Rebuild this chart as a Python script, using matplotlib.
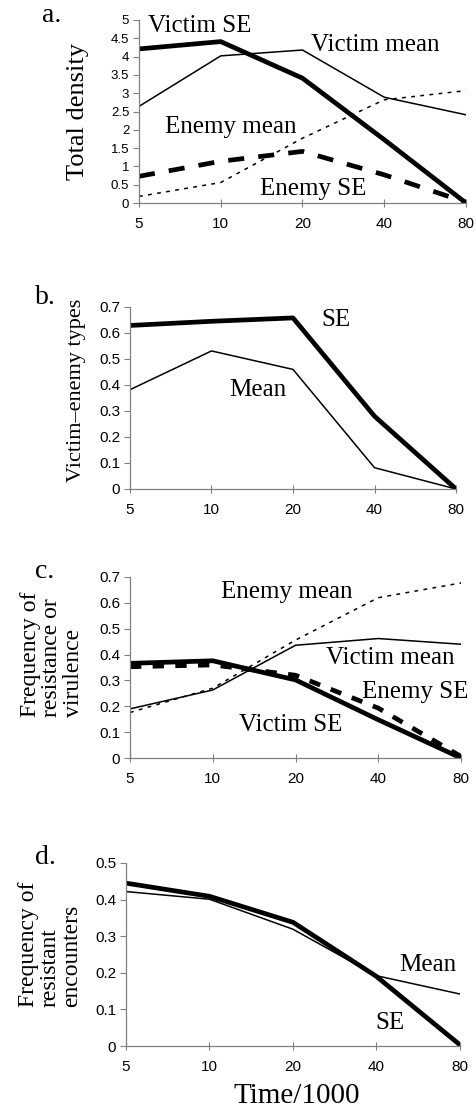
import matplotlib
matplotlib.use('Agg')
import matplotlib.pyplot as plt
import numpy as np

times = ['5', '10', '20', '40', '80']

# panel a: total density
a_victim_se = [4.21, 4.41, 3.41, 1.73, 0.0]
a_victim_mean = [2.64, 4.02, 4.18, 2.89, 2.41]
a_enemy_mean = [0.18, 0.56, 1.77, 2.82, 3.07]
a_enemy_se = [0.73, 1.14, 1.41, 0.77, 0.02]

# panel b: victim-enemy types
b_se = [0.629, 0.645, 0.658, 0.28, 0.0]
b_mean = [0.382, 0.531, 0.46, 0.082, 0.0]

# panel c: frequency of resistance or virulence
c_enemy_mean = [0.176, 0.27, 0.456, 0.62, 0.677]
c_victim_mean = [0.19, 0.263, 0.436, 0.462, 0.44]
c_victim_se = [0.366, 0.376, 0.302, 0.148, 0.0]
c_enemy_se = [0.353, 0.36, 0.32, 0.193, 0.006]

# panel d: frequency of resistant encounters
d_se = [0.445, 0.409, 0.338, 0.19, 0.003]
d_mean = [0.422, 0.401, 0.319, 0.192, 0.142]

SERIF = 'Liberation Serif'
SANS = 'Liberation Sans'
W, H = 477, 1113

fig = plt.figure(figsize=(W / 100, H / 100), dpi=100)


def px_axes(l, r, t, b):
    return fig.add_axes([l / W, 1 - b / H, (r - l) / W, (b - t) / H])


def style(ax, ymax, step, ysize=11):
    x = np.arange(len(times))
    ax.set_xlim(0, len(times) - 1)
    ax.set_ylim(0, ymax)
    ax.set_xticks(x)
    ax.set_xticklabels(times, fontfamily=SANS, fontsize=11)
    yt = np.arange(0, ymax + step / 2, step)
    ax.set_yticks(yt)
    ax.set_yticklabels(['%g' % round(v, 1) for v in yt], fontfamily=SANS, fontsize=ysize)
    for s in ['top', 'right']:
        ax.spines[s].set_visible(False)
    for s in ['left', 'bottom']:
        ax.spines[s].set_color('#808080')
        ax.spines[s].set_linewidth(0.9)
    ax.tick_params(axis='x', direction='inout', length=6, width=0.8, color='#808080', pad=7)
    ax.tick_params(axis='y', direction='out', length=4, width=0.8, color='#808080', pad=3)


def label(x, y, s, size=18, **kw):
    fig.text(x / W, 1 - y / H, s, fontfamily=SERIF, fontsize=size,
             ha='center', va='center', **kw)


x = np.arange(len(times))
THICK = 3.4
THIN = 1.1
DOT = (0, (2.5, 3.5))

# a
ax = px_axes(139, 466, 20, 203)
style(ax, 5, 0.5, ysize=9.5)
ax.plot(x, a_victim_mean, color='black', lw=THIN)
ax.plot(x, a_enemy_mean, color='black', lw=THIN, ls=DOT)
ax.plot(x, a_enemy_se, color='black', lw=THICK, ls=(0, (3.4, 3.0)))
ax.plot(x, a_victim_se, color='black', lw=THICK)
label(78, 112, 'Total density', size=19, rotation=90)
label(52, 16, 'a.', size=20)
label(200, 26, 'Victim SE')
label(375, 45, 'Victim mean')
label(231, 127, 'Enemy mean')
label(313, 189, 'Enemy SE')

# b
ax = px_axes(130, 456, 307, 489)
style(ax, 0.7, 0.1)
ax.plot(x, b_mean, color='black', lw=THIN)
ax.plot(x, b_se, color='black', lw=THICK)
label(77, 390, 'Victim\u2013enemy types', size=16, rotation=90)
label(45, 298, 'b.', size=20)
label(336, 320, 'SE')
label(258, 390, 'Mean')

# c
ax = px_axes(130, 461, 577, 758)
style(ax, 0.7, 0.1)
ax.plot(x, c_victim_mean, color='black', lw=THIN)
ax.plot(x, c_enemy_mean, color='black', lw=THIN, ls=DOT)
ax.plot(x, c_enemy_se, color='black', lw=THICK, ls=(0, (2.4, 2.4)))
ax.plot(x, c_victim_se, color='black', lw=THICK)
fig.text(52 / W, 1 - 717 / H, 'Frequency of\nresistance or\nvirulence', fontfamily=SERIF,
         fontsize=17, rotation=90, ha='center', va='bottom', multialignment='left',
         linespacing=1.05)
label(45, 572, 'c.', size=20)
label(287, 592, 'Enemy mean')
label(390, 658, 'Victim mean')
label(415, 692, 'Enemy SE')
label(291, 725, 'Victim SE')

# d
ax = px_axes(126, 460, 863, 1046)
style(ax, 0.5, 0.1)
ax.plot(x, d_mean, color='black', lw=THIN)
ax.plot(x, d_se, color='black', lw=THICK)
fig.text(50 / W, 1 - 1007 / H, 'Frequency of\nresistant\nencounters', fontfamily=SERIF,
         fontsize=17, rotation=90, ha='center', va='bottom', multialignment='left',
         linespacing=1.05)
label(45, 857, 'd.', size=20)
label(428, 965, 'Mean')
label(390, 1023, 'SE')
label(297, 1096, 'Time/1000', size=21)

fig.savefig('out.png', dpi=100)
